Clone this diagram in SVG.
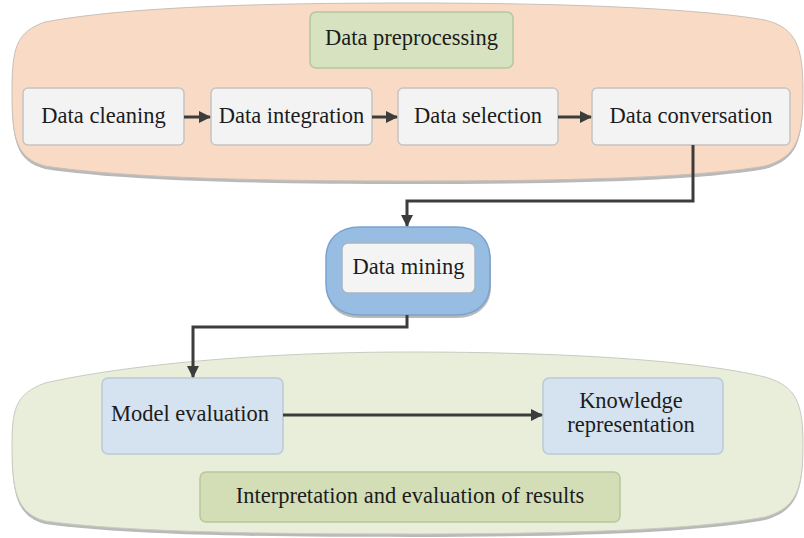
<svg xmlns="http://www.w3.org/2000/svg" width="804" height="538" viewBox="0 0 804 538" font-family="Liberation Serif, DejaVu Serif, serif">
  <style>
    text { font-family: 'Liberation Serif', 'DejaVu Serif', serif; }
    .lbl { font-size: 22.5px; fill: #1c1c1c; text-anchor: middle; }
    .step { fill: #f3f3f3; stroke: #c4c4c4; stroke-width: 1.5; }
    .head { fill: #d6e2c0; stroke: #b7c59e; stroke-width: 1.5; }
    .eval { fill: #d5e3f0; stroke: #bac9d8; stroke-width: 1.5; }
    .res { fill: #d3deb6; stroke: #b9c69c; stroke-width: 1.5; }
    .wire { fill: none; stroke: #3c3c3c; stroke-width: 3; }
    .shadow { fill: #b9b9b9; }
  </style>
  <defs>
    <marker id="arrow" markerUnits="userSpaceOnUse" markerWidth="12" markerHeight="12" refX="11" refY="6" orient="auto">
      <path d="M0,0 L12,6 L0,12 Z" fill="#3c3c3c"/>
    </marker>
    <path id="topBand" d="M12,92 C12,48 16,32 45,22 C125,7 260,3 410,3 C560,3 695,8 765,20 C797,28 803,48 803,92 C803,138 797,157 765,166 C695,178 560,181 410,181 C260,181 125,178 45,166 C16,158 12,138 12,92 Z"/>
    <path id="bottomBand" d="M12,445 C12,408 16,394 45,383 C125,365 260,352 410,352 C560,352 695,360 765,377 C797,386 803,404 803,445 C803,488 797,508 765,517 C695,530 560,534 410,534 C260,534 125,532 45,521 C16,513 12,490 12,445 Z"/>
  </defs>

  <rect width="804" height="538" fill="#ffffff"/>

  <!-- preprocessing band -->
  <g id="preprocessing-band">
    <use href="#topBand" class="shadow" transform="translate(0,3)"/>
    <use href="#topBand" fill="#f9dbc5" stroke="#c9c0b8" stroke-width="1"/>
  </g>

  <!-- interpretation band -->
  <g id="interpretation-band">
    <use href="#bottomBand" class="shadow" transform="translate(0,3)"/>
    <use href="#bottomBand" fill="#e9eedb" stroke="#c8cbbf" stroke-width="1"/>
  </g>

  <g id="data-preprocessing">
    <rect class="head" x="310" y="12" width="203" height="56" rx="6"/>
    <text class="lbl" x="411.5" y="45" font-family="Liberation Serif">Data preprocessing</text>
  </g>

  <g id="data-cleaning">
    <rect class="step" x="23" y="88" width="161" height="57" rx="5"/>
    <text class="lbl" x="103.5" y="123">Data cleaning</text>
  </g>

  <g id="data-integration">
    <rect class="step" x="211" y="88" width="161" height="57" rx="5"/>
    <text class="lbl" x="291.5" y="123">Data integration</text>
  </g>

  <g id="data-selection">
    <rect class="step" x="398" y="88" width="160" height="57" rx="5"/>
    <text class="lbl" x="478" y="123">Data selection</text>
  </g>

  <g id="data-conversation">
    <rect class="step" x="592" y="88" width="198" height="57" rx="5"/>
    <text class="lbl" x="691" y="123">Data conversation</text>
  </g>

  <g id="data-mining">
    <path d="M360,230 L456,230 C478,230 491,243 491,261 L491,287 C491,305 478,318 456,318 L360,318 C338,318 327,305 327,287 L327,261 C327,243 338,230 360,230 Z" class="shadow"/>
    <path d="M360,227 L456,227 C478,227 490,240 490,258 L490,284 C490,302 478,315 456,315 L360,315 C338,315 326,302 326,284 L326,258 C326,240 338,227 360,227 Z" fill="#98bde3" stroke="#7aa3cf" stroke-width="1.5"/>
    <rect x="342" y="243" width="133" height="50" rx="6" fill="#f4f4f4" stroke="#a9b4c0" stroke-width="1.5"/>
    <text class="lbl" x="408.5" y="274">Data mining</text>
  </g>

  <g id="model-evaluation">
    <rect class="eval" x="102" y="378" width="181" height="76" rx="6"/>
    <text class="lbl" x="190" y="421">Model evaluation</text>
  </g>

  <g id="knowledge-representation">
    <rect class="eval" x="543" y="378" width="180" height="76" rx="6"/>
    <text class="lbl" x="631" y="408">Knowledge</text>
    <text class="lbl" x="631" y="432">representation</text>
  </g>

  <g id="interpretation-results">
    <rect class="res" x="200" y="472" width="420" height="50" rx="6"/>
    <text class="lbl" x="410" y="503">Interpretation and evaluation of results</text>
  </g>

  <!-- connectors -->
  <g id="connectors">
    <line class="wire" x1="184" y1="117" x2="210" y2="117" marker-end="url(#arrow)"/>
    <line class="wire" x1="372" y1="117" x2="397" y2="117" marker-end="url(#arrow)"/>
    <line class="wire" x1="558" y1="117" x2="591" y2="117" marker-end="url(#arrow)"/>
    <polyline class="wire" points="693,145 693,201 407,201 407,226" marker-end="url(#arrow)"/>
    <polyline class="wire" points="407,315 407,327 193,327 193,377" marker-end="url(#arrow)"/>
    <line class="wire" x1="283" y1="415" x2="542" y2="415" marker-end="url(#arrow)"/>
  </g>
</svg>
